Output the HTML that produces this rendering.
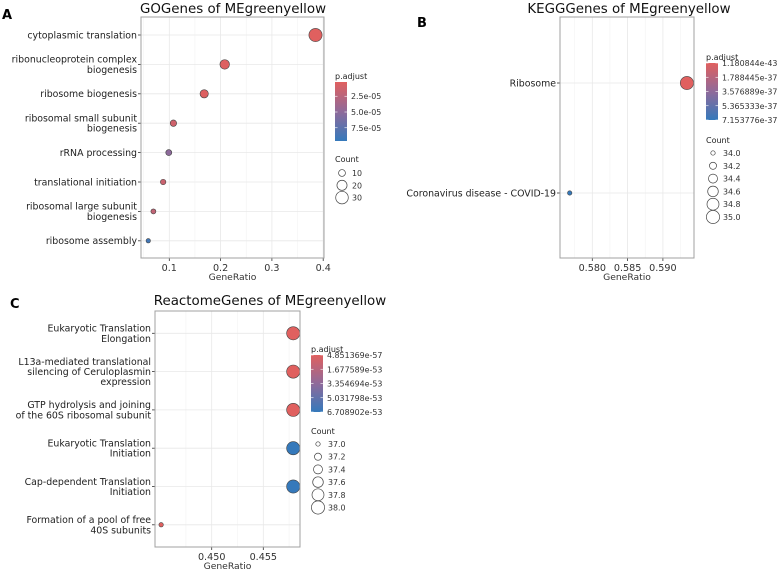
<!DOCTYPE html>
<html><head><meta charset="utf-8">
<style>
html,body{margin:0;padding:0;background:#fff;}
svg{display:block;font-family:"DejaVu Sans","Liberation Sans",sans-serif;}
</style></head>
<body>
<svg id="fig" width="778" height="569" viewBox="0 0 778 569" xmlns="http://www.w3.org/2000/svg">
<defs>
<linearGradient id="grad" x1="0" y1="0" x2="0" y2="1">
<stop offset="0" stop-color="#e0605f"/><stop offset="0.5" stop-color="#8f6a9a"/><stop offset="1" stop-color="#3579bb"/>
</linearGradient>
</defs>
</svg>
<script>
// ---- Panel A data (GO)
const goCategories = ["cytoplasmic translation","ribonucleoprotein complex|biogenesis","ribosome biogenesis","ribosomal small subunit|biogenesis","rRNA processing","translational initiation","ribosomal large subunit|biogenesis","ribosome assembly"];
const goRatio = [0.385,0.208,0.168,0.108,0.099,0.088,0.069,0.059];
const goCount = [33,18,14,9,8,7,6,5];
const goPadj = [0.000002,0.000004,0.000004,0.000012,0.00005,0.000015,0.00002,0.00009];
const goXTicks = [0.1,0.2,0.3,0.4];
const goXTickLabels = ["0.1","0.2","0.3","0.4"];
const goPadjTicks = [2.5e-5,5.0e-5,7.5e-5];
const goPadjLabels = ["2.5e-05","5.0e-05","7.5e-05"];
const goCountTicks = [10,20,30];
// ---- Panel B data (KEGG)
const keggCategories = ["Ribosome","Coronavirus disease - COVID-19"];
const keggRatio = [0.5934,0.5768];
const keggCount = [35,34];
const keggPadj = [1.180844e-43,7.153776e-37];
const keggXTicks = [0.580,0.585,0.590];
const keggXTickLabels = ["0.580","0.585","0.590"];
const keggPadjTicks = [1.180844e-43,1.788445e-37,3.576889e-37,5.365333e-37,7.153776e-37];
const keggPadjLabels = ["1.180844e-43","1.788445e-37","3.576889e-37","5.365333e-37","7.153776e-37"];
const keggCountTicks = [34.0,34.2,34.4,34.6,34.8,35.0];
// ---- Panel C data (Reactome)
const reaCategories = ["Eukaryotic Translation|Elongation","L13a-mediated translational|silencing of Ceruloplasmin|expression","GTP hydrolysis and joining|of the 60S ribosomal subunit","Eukaryotic Translation|Initiation","Cap-dependent Translation|Initiation","Formation of a pool of free|40S subunits"];
const reaRatio = [0.4579,0.4579,0.4579,0.4579,0.4579,0.4451];
const reaCount = [38,38,38,38,38,37];
const reaPadj = [4.9e-57,4.9e-57,4.9e-57,6.708902e-53,6.708902e-53,4.9e-57];
const reaXTicks = [0.450,0.455];
const reaXTickLabels = ["0.450","0.455"];
const reaPadjTicks = [4.851369e-57,1.677589e-53,3.354694e-53,5.031798e-53,6.708902e-53];
const reaPadjLabels = ["4.851369e-57","1.677589e-53","3.354694e-53","5.031798e-53","6.708902e-53"];
const reaCountTicks = [37.0,37.2,37.4,37.6,37.8,38.0];

const svg = document.getElementById('fig');
const NS = "http://www.w3.org/2000/svg";
function mk(tag, attrs, parent){const e=document.createElementNS(NS,tag);for(const k in attrs)e.setAttribute(k,attrs[k]);(parent||svg).appendChild(e);return e;}
function txt(s, attrs, parent){const e=mk('text',attrs,parent);e.textContent=s;return e;}
function lerp(a,b,t){return a+(b-a)*t;}
function colorAt(t){t=Math.max(0,Math.min(1,t));
  const c0=[224,96,95],c1=[143,106,154],c2=[53,121,187];
  let a,b,u; if(t<0.5){a=c0;b=c1;u=t/0.5;}else{a=c1;b=c2;u=(t-0.5)/0.5;}
  return `rgb(${Math.round(lerp(a[0],b[0],u))},${Math.round(lerp(a[1],b[1],u))},${Math.round(lerp(a[2],b[2],u))})`;}

function panel(cfg){
  const g = mk('g',{});
  
  
  const {x0,x1,y0,y1} = cfg.box;
  const xs = v => cfg.xa + (v - cfg.xv) * cfg.xk;
  const ys = i => cfg.yTop + i * cfg.yStep;
  const bg = mk('rect',{x:x0,y:y0,width:x1-x0,height:y1-y0,fill:'#fff'},g);
  
  
  const step = cfg.xTicks[1]-cfg.xTicks[0];
  for(let i=-1;i<cfg.xTicks.length;i++){
    const mv = cfg.xTicks[0] + i*step + step/2;
    const mx = xs(mv);
    if(mx>x0 && mx<x1){const l=mk('line',{x1:mx,x2:mx,y1:y0,y2:y1,stroke:'#f3f3f3','stroke-width':0.6},g);
      
      }
  }
  cfg.xTicks.forEach((v,i)=>{
    const x = xs(v);
    const l=mk('line',{x1:x,x2:x,y1:y0,y2:y1,stroke:'#e8e8e8','stroke-width':0.8},g);
    
    
    const tk=mk('line',{x1:x,x2:x,y1:y1,y2:y1+3,stroke:'#333','stroke-width':0.8},g);
    
    
    const t=txt(cfg.xLabels[i],{x:x,y:y1+13,'font-size':9.6,fill:'#333','text-anchor':'middle'},g);
    
    
  });
  cfg.cats.forEach((c,i)=>{
    const y = ys(i);
    const l=mk('line',{x1:x0,x2:x1,y1:y,y2:y,stroke:'#e8e8e8','stroke-width':0.8},g);
    
    
    const tk=mk('line',{x1:x0-3,x2:x0,y1:y,y2:y,stroke:'#333','stroke-width':0.8},g);
    
    
    const lines=c.split('|');
    const lh=10.2;
    lines.forEach((s,j)=>{
      const ty = y + 3.4 + (j-(lines.length-1)/2)*lh;
      const t=txt(s,{x:x0-4,y:ty,'font-size':9.4,fill:'#222','text-anchor':'end'},g);
      
      
    });
  });
  const cmin=cfg.sizeDomain[0], cmax=cfg.sizeDomain[1];
  const rs = c => Math.sqrt(cfg.rmin*cfg.rmin + Math.max(0,(c-cmin))/(cmax-cmin)*(cfg.rmax*cfg.rmax-cfg.rmin*cfg.rmin));
  const cs = p => colorAt((p-cfg.pLo)/(cfg.pHi-cfg.pLo));
  cfg.cats.forEach((c,i)=>{
    const p=mk('circle',{cx:xs(cfg.ratio[i]),cy:ys(i),r:rs(cfg.count[i]),fill:cs(cfg.padj[i]),stroke:'#444','stroke-width':0.6},g);
    
    
  });
  const border=mk('rect',{x:x0,y:y0,width:x1-x0,height:y1-y0,fill:'none',stroke:'#a0a0a0','stroke-width':1},g);
  
  
  const tt=txt(cfg.title,{x:cfg.titleX,y:cfg.titleY,'font-size':13.4,fill:'#111','text-anchor':'middle'},g);
  
  
  const xt=txt('GeneRatio',{x:(x0+x1)/2,y:y1+22,'font-size':9.2,fill:'#333','text-anchor':'middle'},g);
  
  
  const pl=txt(cfg.letter,{x:cfg.letterX,y:cfg.letterY,'font-size':13,'font-weight':'bold',fill:'#000'},g);
  
  
  const L=cfg.leg;
  const lt=txt('p.adjust',{x:L.x,y:L.barY0-3,'font-size':8,fill:'#222'},g);
  
  
  const bar=mk('rect',{x:L.x,y:L.barY0,width:12,height:L.barY1-L.barY0,fill:'url(#grad)'},g);
  
  
  const by = p => L.barY0 + (p-cfg.pLo)/(cfg.pHi-cfg.pLo)*(L.barY1-L.barY0);
  cfg.pTicks.forEach((p,i)=>{
    const y=by(p);
    const t=txt(cfg.pLabels[i],{x:L.x+16,y:y+3,'font-size':7.9,fill:'#333'},g);
    
    
    mk('line',{x1:L.x,x2:L.x+2.5,y1:y,y2:y,stroke:'#fff','stroke-width':0.6},g);
    mk('line',{x1:L.x+9.5,x2:L.x+12,y1:y,y2:y,stroke:'#fff','stroke-width':0.6},g);
  });
  const ct=txt('Count',{x:L.x,y:L.countY,'font-size':8,fill:'#222'},g);
  
  
  cfg.countTicks.forEach((c,i)=>{
    const y=L.countY0+i*L.countStep;
    const k=mk('circle',{cx:L.x+7,cy:y,r:rs(c),fill:'none',stroke:'#444','stroke-width':0.7},g);
    
    
    const t=txt(cfg.countLabels[i],{x:L.x+17,y:y+3,'font-size':7.9,fill:'#333'},g);
    
    
  });
}

panel({name:'panel-a-go',cats:goCategories,ratio:goRatio,count:goCount,padj:goPadj,
  box:{x0:141,x1:324,y0:17,y1:258},xa:169.3,xv:0.1,xk:513,yTop:35,yStep:29.4,
  xTicks:goXTicks,xLabels:goXTickLabels,rmin:2.2,rmax:6.6,sizeDomain:[5,33],countTicks:goCountTicks,countLabels:goCountTicks.map(String),
  pTicks:goPadjTicks,pLabels:goPadjLabels,pLo:2.4e-6,pHi:9.6e-5,
  title:'GOGenes of MEgreenyellow',titleX:233,titleY:13,letter:'A',letterX:2,letterY:19,
  leg:{x:335,barY0:82,barY1:141,countY:162,countY0:173,countStep:12.3}});

panel({name:'panel-b-kegg',cats:keggCategories,ratio:keggRatio,count:keggCount,padj:keggPadj,
  box:{x0:560,x1:694,y0:17,y1:258},xa:592.3,xv:0.580,xk:7060,yTop:83,yStep:110,
  xTicks:keggXTicks,xLabels:keggXTickLabels,rmin:2.2,rmax:6.6,sizeDomain:[34,35],countTicks:keggCountTicks,countLabels:keggCountTicks.map(v=>v.toFixed(1)),
  pTicks:keggPadjTicks,pLabels:keggPadjLabels,pLo:keggPadjTicks[0],pHi:keggPadjTicks[4],
  title:'KEGGGenes of MEgreenyellow',titleX:629,titleY:13,letter:'B',letterX:417,letterY:27,
  leg:{x:706,barY0:63,barY1:120,countY:143,countY0:153,countStep:12.8}});

panel({name:'panel-c-reactome',cats:reaCategories,ratio:reaRatio,count:reaCount,padj:reaPadj,
  box:{x0:155,x1:300,y0:311,y1:547},xa:211.7,xv:0.450,xk:10320,yTop:333.3,yStep:38.3,
  xTicks:reaXTicks,xLabels:reaXTickLabels,rmin:2.2,rmax:6.6,sizeDomain:[37,38],countTicks:reaCountTicks,countLabels:reaCountTicks.map(v=>v.toFixed(1)),
  pTicks:reaPadjTicks,pLabels:reaPadjLabels,pLo:reaPadjTicks[0],pHi:reaPadjTicks[4],
  title:'ReactomeGenes of MEgreenyellow',titleX:270,titleY:305,letter:'C',letterX:10,letterY:308,
  leg:{x:311,barY0:355,barY1:412,countY:434,countY0:444,countStep:12.7}});
</script>
</body></html>
